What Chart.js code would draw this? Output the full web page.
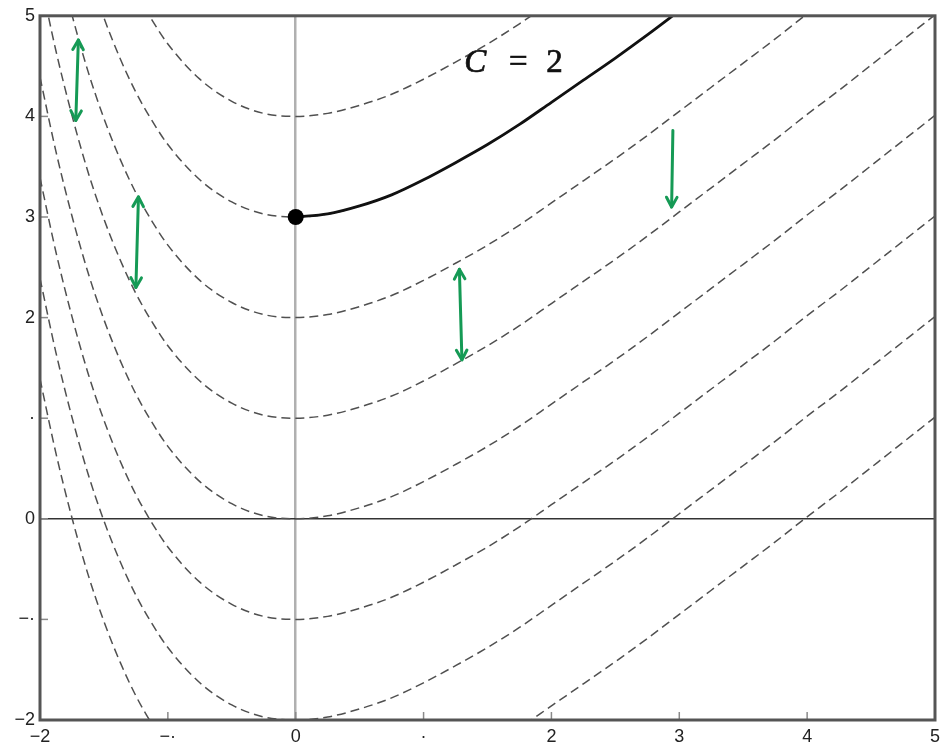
<!DOCTYPE html>
<html><head><meta charset="utf-8">
<script src="https://cdn.jsdelivr.net/npm/chart.js@4.4.1/dist/chart.umd.min.js"></script>
<style>html,body{margin:0;padding:0;background:#fff}canvas{display:block}</style>
</head><body>
<canvas id="c" width="946" height="746"></canvas>
<script>
// ---- data ----
const xValues = [-2,-1.875,-1.75,-1.625,-1.5,-1.375,-1.25,-1.125,-1,-0.75,-0.5,-0.25,0,0.25,0.5,0.75,1,1.25,1.5,1.75,2,2.25,2.5,2.75,3,3.25,3.5,3.75,4,4.25,4.5,4.75,5];
const curveC3  = [8.39,7.65,7.01,6.45,5.98,5.58,5.24,4.96,4.72,4.37,4.15,4.03,4.00,4.03,4.11,4.22,4.37,4.54,4.72,4.92,5.14,5.36,5.58,5.81,6.05,6.29,6.53,6.77,7.02,7.26,7.51,7.76,8.01];
const curveC2  = [7.39,6.65,6.01,5.45,4.98,4.58,4.24,3.96,3.72,3.37,3.15,3.03,3.00,3.03,3.11,3.22,3.37,3.54,3.72,3.92,4.14,4.36,4.58,4.81,5.05,5.29,5.53,5.77,6.02,6.26,6.51,6.76,7.01];
const curveC1  = [6.39,5.65,5.01,4.45,3.98,3.58,3.24,2.96,2.72,2.37,2.15,2.03,2.00,2.03,2.11,2.22,2.37,2.54,2.72,2.92,3.14,3.36,3.58,3.81,4.05,4.29,4.53,4.77,5.02,5.26,5.51,5.76,6.01];
const curveC0  = [5.39,4.65,4.01,3.45,2.98,2.58,2.24,1.96,1.72,1.37,1.15,1.03,1.00,1.03,1.11,1.22,1.37,1.54,1.72,1.92,2.14,2.36,2.58,2.81,3.05,3.29,3.53,3.77,4.02,4.26,4.51,4.76,5.01];
const curveCm1 = [4.39,3.65,3.01,2.45,1.98,1.58,1.24,0.96,0.72,0.37,0.15,0.03,0.00,0.03,0.11,0.22,0.37,0.54,0.72,0.92,1.14,1.36,1.58,1.81,2.05,2.29,2.53,2.77,3.02,3.26,3.51,3.76,4.01];
const curveCm2 = [3.39,2.65,2.01,1.45,0.98,0.58,0.24,-0.04,-0.28,-0.63,-0.85,-0.97,-1.00,-0.97,-0.89,-0.78,-0.63,-0.46,-0.28,-0.08,0.14,0.36,0.58,0.81,1.05,1.29,1.53,1.77,2.02,2.26,2.51,2.76,3.01];
const curveCm3 = [2.39,1.65,1.01,0.45,-0.02,-0.42,-0.76,-1.04,-1.28,-1.63,-1.85,-1.97,-2.00,-1.97,-1.89,-1.78,-1.63,-1.46,-1.28,-1.08,-0.86,-0.64,-0.42,-0.19,0.05,0.29,0.53,0.77,1.02,1.26,1.51,1.76,2.01];
const curveCm4 = [1.39,0.65,0.01,-0.55,-1.02,-1.42,-1.76,-2.04,-2.28,-2.63,-2.85,-2.97,-3.00,-2.97,-2.89,-2.78,-2.63,-2.46,-2.28,-2.08,-1.86,-1.64,-1.42,-1.19,-0.95,-0.71,-0.47,-0.23,0.02,0.26,0.51,0.76,1.01];
const dashedCurves = [curveC3, curveC2, curveC1, curveC0, curveCm1, curveCm2, curveCm3, curveCm4];

const solidX = [0,0.25,0.5,0.75,1,1.25,1.5,1.75,2,2.25,2.5,2.75,3];
const solidY = [3.00,3.03,3.11,3.22,3.37,3.54,3.72,3.92,4.14,4.36,4.58,4.81,5.05];

const markerX = [0];
const markerY = [3];

const xTickValues = [-2,-1,0,1,2,3,4,5];
const xTickLabels = ['\u22122','\u2212\u00b7','0','\u00b7','2','3','4','5'];
const yTickValues = [-2,-1,0,1,2,3,4,5];
const yTickLabels = ['\u22122','\u2212\u00b7','0','\u00b7','2','3','4','5'];

const labelText = ['C', '=', '2'];
const labelX = [1.71];
const labelY = [4.55];

const arrowStartX = [-1.70,-1.23,1.28,2.95];
const arrowStartY = [4.76,3.20,2.48,3.86];
const arrowEndX   = [-1.72,-1.25,1.30,2.94];
const arrowEndY   = [3.96,2.30,1.58,3.10];
const arrowBothHeads = [true,true,true,false];

// ---- chart ----
const datasets = [];
datasets.push({
  data: markerX.map((x,i)=>({x, y: markerY[i]})),
  showLine:false, pointRadius:8, pointHoverRadius:8,
  backgroundColor:'#000', borderColor:'#000', borderWidth:0
});
datasets.push({
  data: solidX.map((x,i)=>({x, y: solidY[i]})),
  showLine:true, pointRadius:0, borderColor:'#111', borderWidth:2.8,
  cubicInterpolationMode:'monotone'
});
dashedCurves.forEach(arr=>{
  datasets.push({
    data: xValues.map((x,i)=>({x, y: arr[i]})),
    showLine:true, pointRadius:0, borderColor:'#505050', borderWidth:1.5,
    borderDash:[9,5], cubicInterpolationMode:'monotone'
  });
});

function drawArrowHead(ctx, x1, y1, x2, y2){
  const ang = Math.atan2(y2-y1, x2-x1);
  const L = 11, spread = 0.5;
  ctx.beginPath();
  ctx.moveTo(x2 - L*Math.cos(ang-spread), y2 - L*Math.sin(ang-spread));
  ctx.lineTo(x2, y2);
  ctx.lineTo(x2 - L*Math.cos(ang+spread), y2 - L*Math.sin(ang+spread));
  ctx.stroke();
}

const decor = {
  id:'decor',
  afterDatasetsDraw(chart){
    const {ctx, chartArea:a, scales:{x, y}} = chart;
    ctx.save();
    // inward tick marks
    ctx.strokeStyle = '#8a8a8a'; ctx.lineWidth = 1.5;
    xTickValues.forEach(v=>{
      const px = x.getPixelForValue(v);
      ctx.beginPath(); ctx.moveTo(px, a.bottom); ctx.lineTo(px, a.bottom-8); ctx.stroke();
    });
    yTickValues.forEach(v=>{
      const py = y.getPixelForValue(v);
      ctx.beginPath(); ctx.moveTo(a.left, py); ctx.lineTo(a.left+8, py); ctx.stroke();
    });
    // frame
    ctx.strokeStyle = '#555'; ctx.lineWidth = 3;
    ctx.strokeRect(a.left, a.top, a.right-a.left, a.bottom-a.top);
    // curve label
    const lx = x.getPixelForValue(labelX[0]), ly = y.getPixelForValue(labelY[0]);
    ctx.fillStyle = '#111'; ctx.strokeStyle = '#111'; ctx.lineWidth = 0.7;
    ctx.textBaseline = 'alphabetic';
    ctx.textAlign = 'left';
    ctx.font = 'italic 33px "Liberation Serif", "DejaVu Serif", serif';
    ctx.fillText(labelText[0], lx-50, ly+11);
    ctx.strokeText(labelText[0], lx-50, ly+11);
    ctx.font = '33px "Liberation Serif", "DejaVu Serif", serif';
    ctx.textAlign = 'center';
    ctx.fillText(labelText[1], lx+4, ly+11);
    ctx.strokeText(labelText[1], lx+4, ly+11);
    ctx.textAlign = 'left';
    ctx.fillText(labelText[2], lx+32, ly+11);
    ctx.strokeText(labelText[2], lx+32, ly+11);
    // green arrows
    ctx.strokeStyle = '#159a55'; ctx.lineWidth = 3; ctx.lineCap = 'round'; ctx.lineJoin = 'round';
    arrowStartX.forEach((sx,i)=>{
      const x1 = x.getPixelForValue(sx), y1 = y.getPixelForValue(arrowStartY[i]);
      const x2 = x.getPixelForValue(arrowEndX[i]), y2 = y.getPixelForValue(arrowEndY[i]);
      ctx.beginPath(); ctx.moveTo(x1,y1); ctx.lineTo(x2,y2); ctx.stroke();
      drawArrowHead(ctx, x1, y1, x2, y2);
      if (arrowBothHeads[i]) drawArrowHead(ctx, x2, y2, x1, y1);
    });
    ctx.restore();
  }
};

const tickFont = {family:'"Liberation Sans", Arial, sans-serif', size:18};
new Chart(document.getElementById('c'), {
  type:'scatter',
  data:{datasets},
  options:{
    responsive:false, animation:false, events:[],
    layout:{padding:{left:0, top:13, right:11, bottom:0}},
    plugins:{legend:{display:false}, tooltip:{enabled:false}},
    scales:{
      x:{
        type:'linear', min:-2, max:5,
        afterFit(s){ s.height = 26; },
        border:{display:false},
        grid:{drawTicks:false, lineWidth:2.5,
          color: c => (c.tick && c.tick.value === 0) ? '#b0b0b0' : 'rgba(0,0,0,0)'},
        ticks:{stepSize:1, autoSkip:false, maxRotation:0, padding:6, color:'#222', font:tickFont,
          callback: v => { const i = xTickValues.indexOf(v); return i >= 0 ? xTickLabels[i] : ''; }}
      },
      y:{
        type:'linear', min:-2, max:5,
        afterFit(s){ s.width = 40; },
        border:{display:false},
        grid:{drawTicks:false, lineWidth:1.5,
          color: c => (c.tick && c.tick.value === 0) ? '#333' : 'rgba(0,0,0,0)'},
        ticks:{stepSize:1, autoSkip:false, padding:5, color:'#222', font:tickFont,
          callback: v => { const i = yTickValues.indexOf(v); return i >= 0 ? yTickLabels[i] : ''; }}
      }
    }
  },
  plugins:[decor]
});
</script>
</body></html>
